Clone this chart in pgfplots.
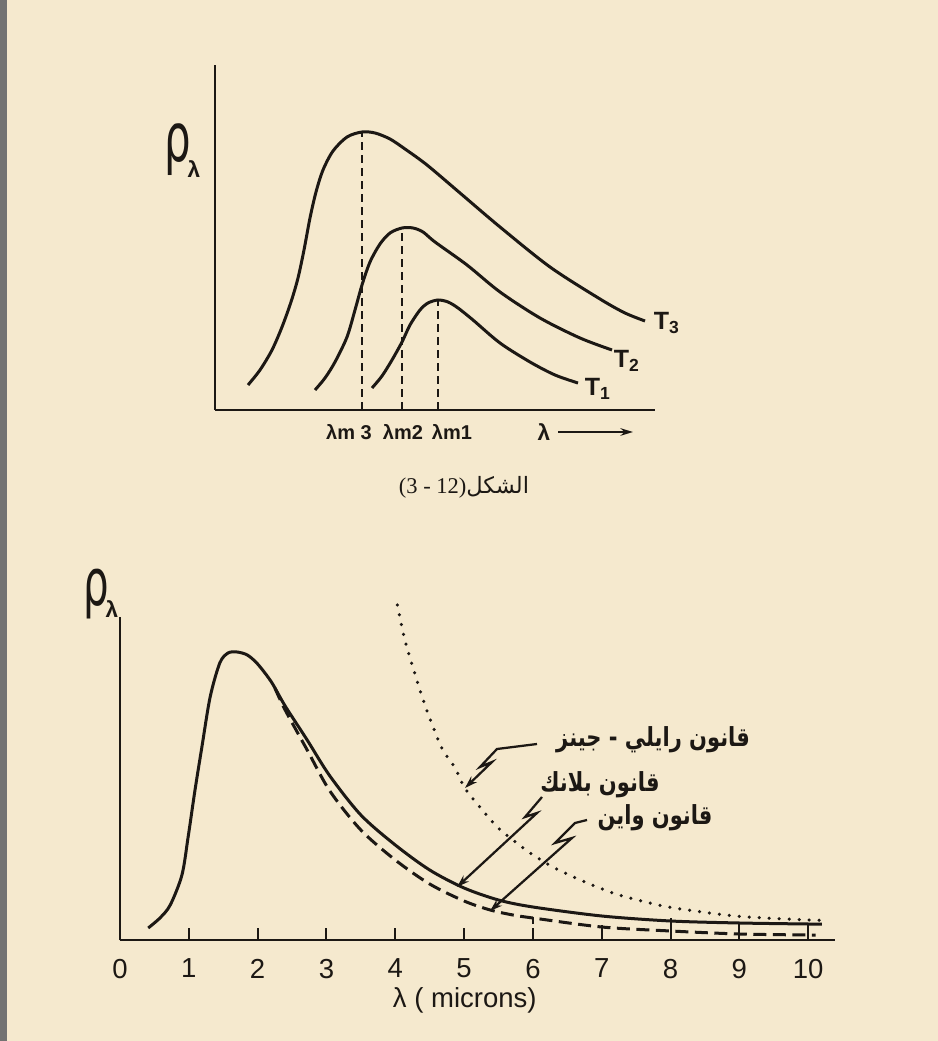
\documentclass[border=0pt]{standalone}
\usepackage{fontspec}
\usepackage{pgfplots}
\pgfplotsset{compat=1.18}
\usetikzlibrary{arrows.meta}
\setmainfont{Liberation Sans}
\newfontfamily\seriffont{Liberation Serif}
\newfontfamily\dejavu{DejaVu Sans}
\newfontfamily\arabicfont[Script=Arabic]{DejaVu Sans}
\TeXXeTstate=1
\definecolor{paper}{RGB}{245,233,206}
\definecolor{ink}{RGB}{28,24,20}
\begin{document}
\begin{tikzpicture}[x=0.4pt,y=0.4pt]
\fill[paper] (0,0) rectangle (938,1041);
\path[use as bounding box] (0,0) rectangle (938,1041);
\fill[black!55] (0,0) rectangle (7,1041);

% ---------------- top chart ----------------
\begin{scope}[shift={(215,631)}]
\begin{axis}[scale only axis,
  width=176pt, height=138pt, xmin=0, xmax=440, ymin=0, ymax=345,
  axis lines=left, axis line style={-, ink, line width=1pt},
  xtick=\empty, ytick=\empty, clip=false]
\addplot[ink, line width=1.2pt, smooth] coordinates {
 (33,25)(45,40)(57,60)(67,83)(76,108)(83,132)(89,160)(95,192)(101,218)(108,240)
 (118,259)(132,273)(147,278)(160,277)(175,271)(190,261)(212,245)(245,217)
 (285,183)(335,143)(385,111)(410,97)(430,89)};
\addplot[ink, line width=1.2pt, smooth] coordinates {
 (100,20)(110,32)(120,48)(132,73)(140,100)(147,125)(155,148)(165,166)(175,177)
 (187,182)(198,182)(208,178)(220,168)(252,145)(285,118)(325,92)(365,72)(397,60)};
\addplot[ink, line width=1.2pt, smooth] coordinates {
 (157,22)(167,34)(177,50)(187,68)(195,85)(205,100)(213,107)(223,110)(233,108)
 (243,102)(258,90)(285,67)(315,48)(340,35)(363,27)};
\addplot[ink, line width=0.8pt, dash pattern=on 3.2pt off 2pt] coordinates {(147,0)(147,278)};
\addplot[ink, line width=0.8pt, dash pattern=on 3.2pt off 2pt] coordinates {(187,0)(187,182)};
\addplot[ink, line width=0.8pt, dash pattern=on 3.2pt off 2pt] coordinates {(223,0)(223,110)};
\node[ink, font=\fontsize{8}{9}\selectfont\bfseries] at (axis cs:134,-22) {λm 3};
\node[ink, font=\fontsize{8}{9}\selectfont\bfseries] at (axis cs:188,-22) {λm2};
\node[ink, font=\fontsize{8}{9}\selectfont\bfseries] at (axis cs:237,-22) {λm1};
\node[ink, font=\fontsize{9}{10}\selectfont\bfseries] at (axis cs:329,-22) {λ};
\draw[ink, line width=1pt, -{Stealth[length=5pt,width=3pt]}] (axis cs:343,-22) -- (axis cs:418,-22);
\node[ink, font=\fontsize{10}{11}\selectfont\bfseries] at (axis cs:452,87) {T\textsubscript{3}};
\node[ink, font=\fontsize{10}{11}\selectfont\bfseries] at (axis cs:412,49) {T\textsubscript{2}};
\node[ink, font=\fontsize{10}{11}\selectfont\bfseries] at (axis cs:383,21) {T\textsubscript{1}};
\end{axis}
\end{scope}

% ---------------- bottom chart ----------------
\begin{scope}[shift={(120,101)}]
\begin{axis}[scale only axis,
  width=286pt, height=129.2pt, xmin=0, xmax=10.39, ymin=0, ymax=32.3,
  axis lines=left, axis line style={-, ink, line width=1pt},
  xtick={0,1,2,3,4,5,6,7,8,9,10},
  xticklabels={0,1,2,3,4,5,6,7,8,9,10},
  ytick=\empty, tick align=inside, major tick length=4.8pt,
  tick style={ink, line width=0.8pt},
  xticklabel style={font=\fontsize{11}{13}\selectfont, text=ink, yshift=-4pt},
  clip=false]
% Planck (solid)
\addplot[ink, line width=1.2pt, smooth] coordinates {
 (0.41,1.2)(0.58,2.2)(0.73,3.5)(0.90,6.5)(0.99,10.3)(1.09,15.0)(1.19,19.3)
 (1.31,24.3)(1.45,27.7)(1.57,28.7)(1.70,28.8)(1.85,28.5)(2.0,27.6)(2.2,25.8)
 (2.4,23.4)(2.72,20.0)(3.05,16.4)(3.5,12.5)(4.0,9.5)(4.5,7.0)(5.0,5.2)(5.5,4.0)
 (6.0,3.3)(7.0,2.4)(8.0,1.9)(9.0,1.7)(10.0,1.6)(10.2,1.6)};
% Wien (dashed)
\addplot[ink, line width=1.2pt, dash pattern=on 5.2pt off 2.6pt, smooth] coordinates {
 (2.25,25.2)(2.4,23.0)(2.72,19.0)(3.05,14.9)(3.5,11.0)(4.0,8.0)(4.5,5.6)(5.0,3.9)
 (5.38,3.0)(5.71,2.5)(6.0,2.2)(7.0,1.3)(8.0,0.9)(9.0,0.6)(10.0,0.5)(10.1,0.5)};
% Rayleigh-Jeans (dotted)
\addplot[ink, line width=1.4pt, line cap=round, dash pattern=on 0pt off 4pt, smooth] coordinates {
 (4.03,33.5)(4.14,30.0)(4.29,26.5)(4.43,23.5)(4.55,21.3)(4.69,19.0)(4.87,17.2)
 (5.01,15.2)(5.23,13.3)(5.48,11.3)(5.71,10.0)(5.96,8.7)(6.29,7.3)(6.69,6.0)
 (7.12,4.8)(7.41,4.2)(7.97,3.3)(8.94,2.4)(10.0,2.0)(10.2,2.0)};
% small grid marks on the curves
\addplot[ink, line width=0.8pt] coordinates {(6,1.6)(6,2.3)};
\addplot[ink, line width=0.8pt] coordinates {(7,0.8)(7,1.5)};
\addplot[ink, line width=0.8pt] coordinates {(8,0.6)(8,2.2)};
\addplot[ink, line width=0.8pt] coordinates {(9,0)(9,1.8)};
\addplot[ink, line width=0.8pt] coordinates {(10,0)(10,1.7)};
\node[ink, font=\fontsize{11}{13}\selectfont] at (axis cs:5.01,-6) {λ ( microns)};
\end{axis}
\end{scope}

% annotations in pixel coordinates
\begin{scope}[shift={(0,1041)}, yscale=-1]
\node[ink, inner sep=0pt] at (178,150) {\scalebox{0.62}[1]{\fontsize{27}{27}\dejavu ρ}};
\node[ink, inner sep=0pt, font=\fontsize{9}{10}\selectfont\bfseries] at (194,169) {λ};
\node[ink, inner sep=0pt] at (96,594) {\scalebox{0.62}[1]{\fontsize{26}{26}\dejavu ρ}};
\node[ink, inner sep=0pt, font=\fontsize{9}{10}\selectfont\bfseries] at (112,609) {λ};
\node[ink, inner sep=0pt] at (464,487) {{\seriffont\fontsize{9}{10}\selectfont (3 - 12)}{\arabicfont\fontsize{9}{10}\selectfont\beginR الشكل\endR}};
\node[ink, inner sep=0pt] at (653,740) {\scalebox{1}[1.25]{\arabicfont\bfseries\fontsize{8.4}{10}\selectfont\beginR قانون رايلي - جينز\endR}};
\node[ink, inner sep=0pt] at (600,785) {\scalebox{1}[1.25]{\arabicfont\bfseries\fontsize{8.4}{10}\selectfont\beginR قانون بلانك\endR}};
\node[ink, inner sep=0pt] at (655,818) {\scalebox{1}[1.25]{\arabicfont\bfseries\fontsize{8.4}{10}\selectfont\beginR قانون واين\endR}};
\draw[ink, line width=0.9pt, -{Stealth[length=5pt,width=3.2pt]}] (537,744) -- (497,749) -- (480,767) -- (492,762) -- (465,788);
\draw[ink, line width=0.9pt, -{Stealth[length=5pt,width=3.2pt]}] (542,797) -- (525,817) -- (537,813) -- (457,887);
\draw[ink, line width=0.9pt, -{Stealth[length=5pt,width=3.2pt]}] (587,820) -- (575,823) -- (555,843) -- (572,838) -- (490,911);
\end{scope}
\end{tikzpicture}
\end{document}
